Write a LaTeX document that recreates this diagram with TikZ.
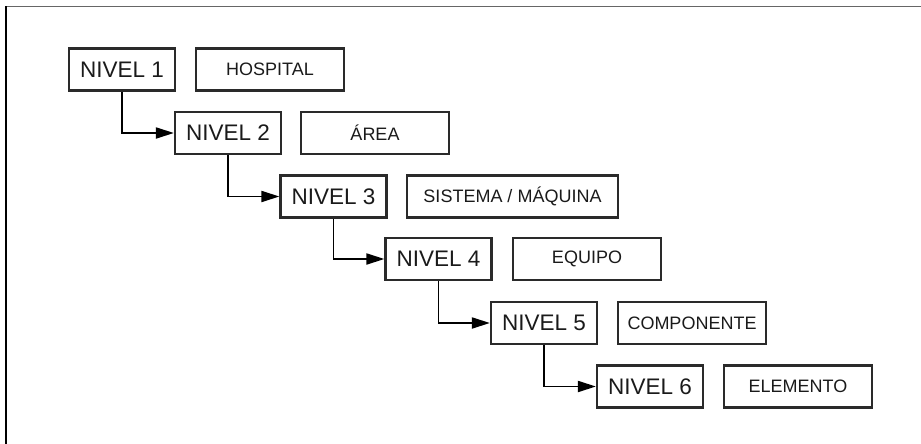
\documentclass[tikz,border=0pt]{standalone}
\usepackage{fontspec}
\setmainfont{Liberation Sans}
\usetikzlibrary{arrows.meta}
\definecolor{boxline}{HTML}{2A2A2A}
\definecolor{ink}{HTML}{1A1A1A}
\tikzset{
  levelbox/.style={draw=boxline, line width=2.2pt, minimum width=106pt, minimum height=42pt,
    inner sep=0pt, text=ink, font=\fontsize{22.5}{25}\selectfont},
  namebox/.style={draw=boxline, line width=2.2pt, minimum width=148pt, minimum height=42pt,
    inner sep=0pt, text=ink, font=\fontsize{18}{21}\selectfont},
  link/.style={draw=black, line width=1.9pt, -{Triangle[length=18pt,width=11pt]}},
  frame/.style={line width=1.5pt}
}
\begin{document}
\begin{tikzpicture}[x=1pt,y=-1pt]
  \useasboundingbox (0,0) rectangle (921,444);
  % page frame: top and left edges only
  \draw[frame, draw=gray!80!black] (5.5,6.5) -- (921,6.5);
  \draw[frame, draw=black] (6,6.5) -- (6,444);

  % hierarchy levels
  \node[levelbox] (n1) at (122,69.5)  {NIVEL 1};
  \node[levelbox] (n2) at (228,133)   {NIVEL 2};
  \node[levelbox] (n3) at (333.5,196.5) {NIVEL 3};
  \node[levelbox] (n4) at (438.5,259) {NIVEL 4};
  \node[levelbox] (n5) at (544,323)   {NIVEL 5};
  \node[levelbox] (n6) at (650,386.5) {NIVEL 6};

  % level names
  \node[namebox] (h1) at (270,69.5)  {HOSPITAL};
  \node[namebox] (h2) at (375,133)   {ÁREA};
  \node[namebox, minimum width=211pt] (h3) at (512.5,196.5) {SISTEMA / MÁQUINA};
  \node[namebox] (h4) at (587,259)   {EQUIPO};
  \node[namebox] (h5) at (692,323)   {COMPONENTE};
  \node[namebox] (h6) at (798,386.5) {ELEMENTO};

  % elbow connectors between consecutive levels
  \draw[link] (n1.south) |- (n2.west);
  \draw[link] (n2.south) |- (n3.west);
  \draw[link] (n3.south) |- (n4.west);
  \draw[link] (n4.south) |- (n5.west);
  \draw[link] (n5.south) |- (n6.west);
\end{tikzpicture}
\end{document}
